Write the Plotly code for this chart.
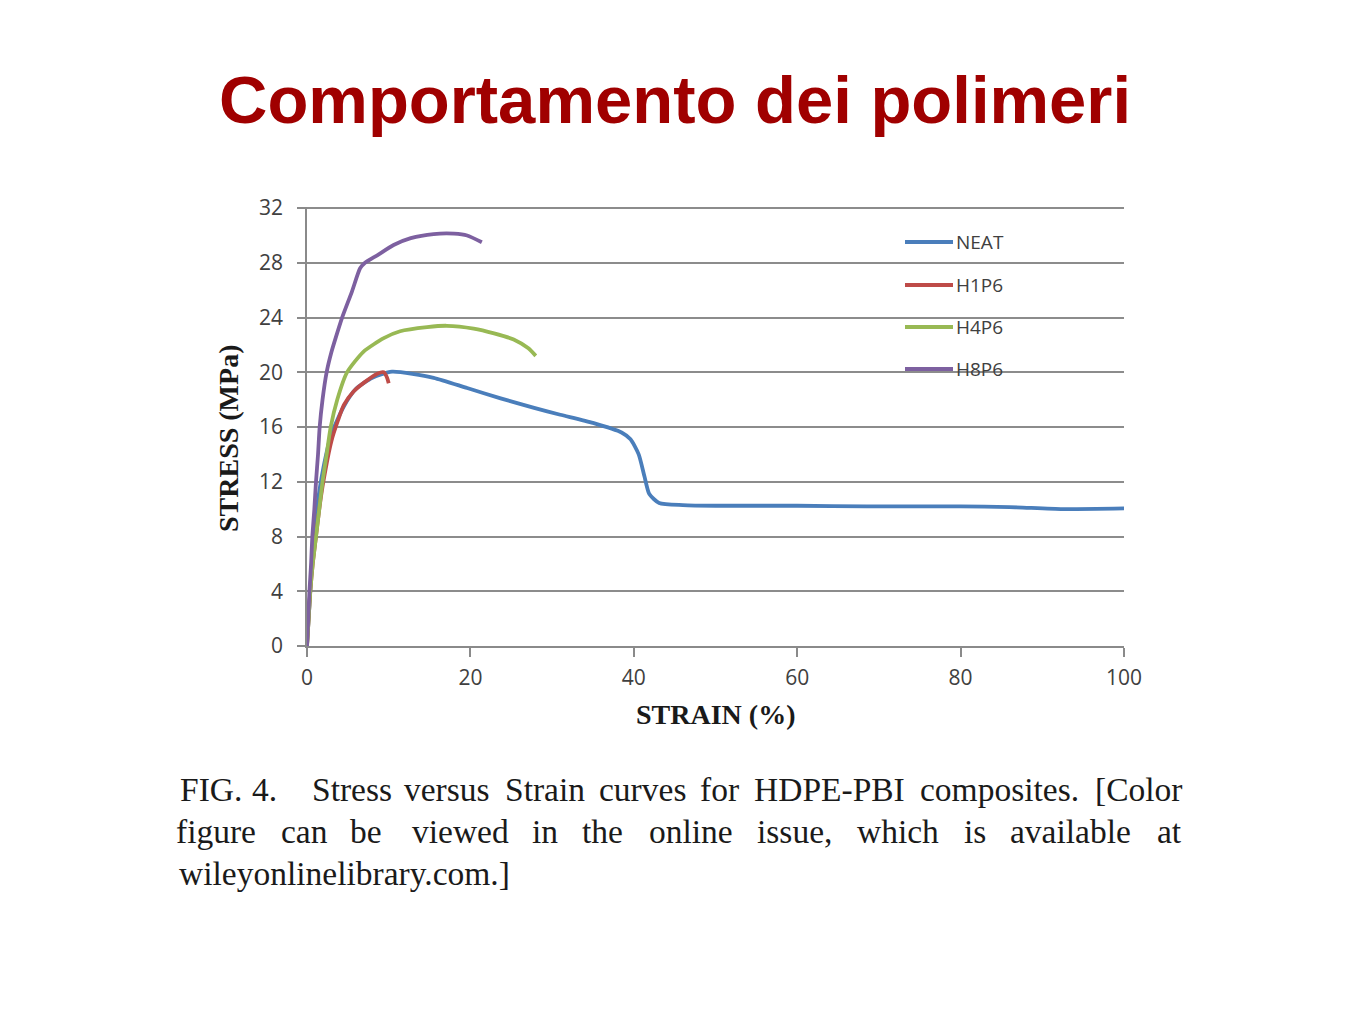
import plotly.graph_objects as go

# ── Data (strain %, stress MPa)
neat_x = [0, 0.3, 0.7, 1.2, 2, 3, 4.5, 6, 8, 10.4, 15.5, 19.6, 23.7, 27.8, 31, 35,
          38.5, 39.6, 40.6, 41.3, 41.9, 43.1, 46, 50, 60, 68.5, 80, 86, 92.5, 100]
neat_y = [0, 3, 7, 10, 13, 15.5, 17.5, 18.8, 19.6, 20.05, 19.6, 18.85, 18.1, 17.4, 16.9, 16.3,
          15.6, 15.1, 14.0, 12.4, 11.1, 10.45, 10.3, 10.25, 10.25, 10.2, 10.2, 10.15, 10.0, 10.05]

h1p6_x = [0, 0.2, 0.4, 0.7, 1.1, 1.5, 2.0, 3.0, 3.8, 4.5, 5.7, 7.1, 8.6, 9.4, 9.8, 10.0]
h1p6_y = [0, 2, 4, 6, 8, 10, 12, 15, 16.5, 17.6, 18.6, 19.3, 19.9, 20.0, 19.6, 19.2]

h4p6_x = [0, 0.2, 0.4, 0.7, 1.1, 1.5, 1.9, 2.4, 2.9, 3.7, 4.9, 6.9, 9.4, 11.4, 14.7, 17.1,
          20.4, 22.9, 25.3, 27.1, 28]
h4p6_y = [0, 2, 4, 6, 8, 10, 12, 14, 16, 18, 20, 21.5, 22.5, 23.0, 23.3, 23.4,
          23.2, 22.85, 22.4, 21.75, 21.2]

h8p6_x = [0, 0.15, 0.3, 0.5, 0.65, 0.9, 1.1, 1.35, 1.55, 1.9, 2.4, 3.0, 3.5, 4.3, 5.5, 6.5,
          7.1, 8.6, 10.6, 12.7, 15.5, 18, 19.6, 21.4]
h8p6_y = [0, 2, 4, 6, 8, 10, 12, 14, 16, 18, 20, 21.5, 22.5, 24, 25.9, 27.6,
          28, 28.55, 29.3, 29.8, 30.1, 30.13, 30.0, 29.5]

series = [
    ("NEAT", neat_x, neat_y, "#4A7EBB"),
    ("H1P6", h1p6_x, h1p6_y, "#BE4B48"),
    ("H4P6", h4p6_x, h4p6_y, "#98B954"),
    ("H8P6", h8p6_x, h8p6_y, "#7D60A0"),
]

y_ticks = [0, 4, 8, 12, 16, 20, 24, 28, 32]
x_ticks = [0, 20, 40, 60, 80, 100]

caption_l1 = ["FIG.", "4.", "Stress", "versus", "Strain", "curves", "for", "HDPE-PBI",
              "composites.", "[Color"]
caption_l2 = ["figure", "can", "be", "viewed", "in", "the", "online", "issue,", "which",
              "is", "available", "at"]
caption_l3 = "wileyonlinelibrary.com.]"

SANS = "Open Sans, Liberation Sans, sans-serif"
SERIF = "Liberation Serif, Times New Roman, serif"
TICK_FONT = dict(family=SANS, size=21, color="#404040")

# page body has an 8px margin, so everything is laid out 8px up/left of the target
OFF = 8
W, H = 1350, 1013
PL, PR, PT, PB = 307, 1124, 207, 646          # plot box in screen pixels
L, T = PL - OFF, PT - OFF
R, B = W - (PR - OFF), H - (PB - OFF)
pw, ph = W - L - R, H - T - B


def px(x):
    return (x - OFF - L) / pw


def py(y):
    return (H - B - (y - OFF)) / ph


fig = go.Figure()
for name, xs, ys, col in series:
    fig.add_trace(go.Scatter(
        x=xs, y=ys, mode="lines", name=name, showlegend=False,
        line=dict(color=col, width=3.8, shape="spline", smoothing=0.6),
    ))

fig.update_xaxes(
    range=[0, 100], tickvals=x_ticks, showgrid=False, zeroline=False,
    showline=True, linecolor="#8a8a8a", linewidth=1.5,
    ticks="outside", ticklen=9, tickcolor="#8a8a8a", tickwidth=1.5,
    tickfont=TICK_FONT, ticklabelstandoff=3,
)
# top limit nudged a hair above 32 so the 32 gridline is drawn
fig.update_yaxes(
    range=[0, 32.08], tickvals=y_ticks, showgrid=True, gridcolor="#8c8c8c", gridwidth=1.5,
    zeroline=False, showline=True, linecolor="#8a8a8a", linewidth=1.5,
    ticks="outside", ticklen=8, tickcolor="#8a8a8a", tickwidth=1.5,
    tickfont=TICK_FONT, ticklabelstandoff=10,
)

# title
fig.add_annotation(
    x=px(675), y=py(100), xref="paper", yref="paper",
    text="<b>Comportamento dei polimeri</b>", showarrow=False,
    xanchor="center", yanchor="middle",
    font=dict(family="Liberation Sans, Arial, sans-serif", size=67, color="#A00000"),
)

# axis titles
ax_font = dict(family=SERIF, size=28, color="#1a1a1a")
fig.add_annotation(x=px(715), y=py(714), xref="paper", yref="paper",
                   text="<b>STRAIN (%)</b>", showarrow=False,
                   xanchor="center", yanchor="middle", font=ax_font)
fig.add_annotation(x=px(228), y=py(439), xref="paper", yref="paper",
                   text="<b>STRESS (MPa)</b>", showarrow=False, textangle=-90,
                   xanchor="center", yanchor="middle", font=ax_font)

# legend drawn by hand: 48px sample line, label right after it
leg_y = [242, 285, 327, 369]
for (name, _, _, col), ly in zip(series, leg_y):
    fig.add_shape(type="line", xref="paper", yref="paper",
                  x0=px(905), x1=px(953), y0=py(ly), y1=py(ly),
                  line=dict(color=col, width=4))
    fig.add_annotation(x=px(954), y=py(ly), xref="paper", yref="paper", text=name,
                       showarrow=False, xanchor="left", yanchor="middle",
                       font=dict(family=SANS, size=19, color="#404040"))

# caption — word positions follow the justified lines of the source
l1_cx = [211, 264, 351.5, 447, 545, 642, 719, 829.5, 999.5, 1138]
l2_cx = [216, 304.5, 366, 460, 544.5, 602.5, 690.5, 794.5, 898, 974.5, 1070.5, 1169]
cap_font = dict(family=SERIF, size=33.5, color="#1a1a1a")
for words, centers, yy in [(caption_l1, l1_cx, 789), (caption_l2, l2_cx, 831)]:
    for w, cx in zip(words, centers):
        fig.add_annotation(x=px(cx), y=py(yy), xref="paper", yref="paper", text=w,
                           showarrow=False, font=cap_font, xanchor="center", yanchor="middle")
fig.add_annotation(x=px(177), y=py(873), xref="paper", yref="paper", text=caption_l3,
                   showarrow=False, font=cap_font, xanchor="left", yanchor="middle")

fig.update_layout(
    width=W, height=H,
    margin=dict(l=L, r=R, t=T, b=B),
    paper_bgcolor="white", plot_bgcolor="white",
    showlegend=False,
)

fig.write_html("out.html")
